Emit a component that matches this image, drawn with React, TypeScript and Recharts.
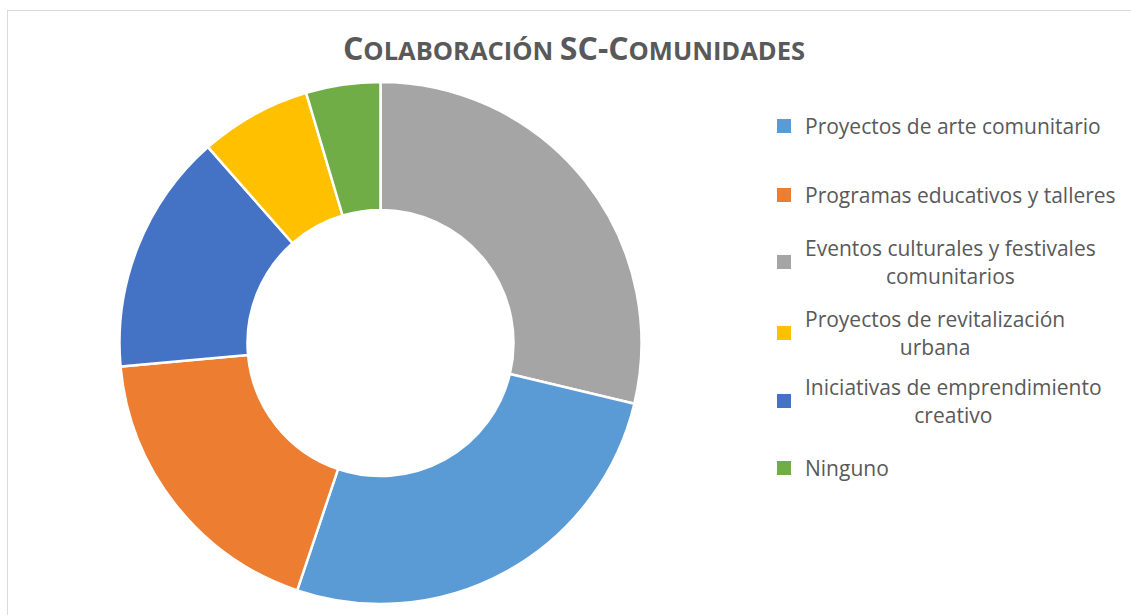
import React from "react";
import { PieChart, Pie, Cell, Legend } from "recharts";

const sliceNames = [
  "Eventos culturales y festivales comunitarios",
  "Proyectos de arte comunitario",
  "Programas educativos y talleres",
  "Iniciativas de emprendimiento creativo",
  "Proyectos de revitalización urbana",
  "Ninguno",
];
const sliceValues = [25, 23, 16, 13, 6, 4];
const sliceColors = ["#A5A5A5", "#5B9BD5", "#ED7D31", "#4472C4", "#FFC000", "#70AD47"];

const legendLines = [
  ["Proyectos de arte comunitario"],
  ["Programas educativos y talleres"],
  ["Eventos culturales y festivales", "comunitarios"],
  ["Proyectos de revitalización", "urbana"],
  ["Iniciativas de emprendimiento", "creativo"],
  ["Ninguno"],
];
const legendColors = ["#5B9BD5", "#ED7D31", "#A5A5A5", "#FFC000", "#4472C4", "#70AD47"];
const legendCenters = [126, 195, 262, 333, 401, 468];

const titleParts: [string, boolean][] = [
  ["C", true],
  ["OLABORACIÓN ", false],
  ["SC-C", true],
  ["OMUNIDADES", false],
];

const data = sliceNames.map((name, i) => ({ name, value: sliceValues[i] }));

const FONT = "'Open Sans', sans-serif";
const TEXT = "#595959";
const LH = 28.5;

function LegendContent() {
  return (
    <div style={{ position: "relative", width: 1131, height: 615 }}>
      {legendLines.map((lines, i) => {
        const h = lines.length * LH;
        return (
          <div
            key={i}
            style={{
              position: "absolute",
              left: 777,
              top: legendCenters[i] - h / 2,
              height: h,
              display: "flex",
              alignItems: "center",
            }}
          >
            <div style={{ width: 14, height: 14, background: legendColors[i], marginRight: 14 }} />
            <div
              style={{
                fontFamily: FONT,
                fontSize: 21,
                lineHeight: LH + "px",
                color: TEXT,
                textAlign: "center",
                whiteSpace: "nowrap",
              }}
            >
              {lines.map((l, j) => (
                <div key={j}>{l}</div>
              ))}
            </div>
          </div>
        );
      })}
    </div>
  );
}

export default function App() {
  return (
    <div style={{ position: "absolute", left: 0, top: 0, width: 1131, height: 615, overflow: "hidden", background: "#fff" }}>
      <div
        style={{
          position: "absolute",
          left: 7,
          top: 10,
          width: 1160,
          height: 640,
          border: "1px solid #D9D9D9",
          boxSizing: "border-box",
        }}
      />
      <svg style={{ position: "absolute", left: 0, top: 0 }} width={1131} height={80}>
        <text x={574} y={60} textAnchor="middle" fontFamily={FONT} fontWeight={700} fill={TEXT}>
          {titleParts.map(([t, big], i) => (
            <tspan key={i} fontSize={big ? 32 : 25.5}>
              {t}
            </tspan>
          ))}
        </text>
      </svg>
      <div style={{ position: "absolute", left: 0, top: 0 }}>
        <PieChart width={1131} height={615} margin={{ top: 0, right: 0, bottom: 0, left: 0 }}>
          <Pie
            data={data}
            dataKey="value"
            nameKey="name"
            cx={380.5}
            cy={343}
            outerRadius={261}
            innerRadius={133}
            startAngle={90}
            endAngle={-270}
            stroke="#FFFFFF"
            strokeWidth={2.5}
            isAnimationActive={false}
          >
            {data.map((d, i) => (
              <Cell key={d.name} fill={sliceColors[i]} />
            ))}
          </Pie>
          <Legend
            content={() => <LegendContent />}
            wrapperStyle={{ position: "absolute", left: 0, top: 0, width: 1131, height: 615 }}
          />
        </PieChart>
      </div>
    </div>
  );
}
